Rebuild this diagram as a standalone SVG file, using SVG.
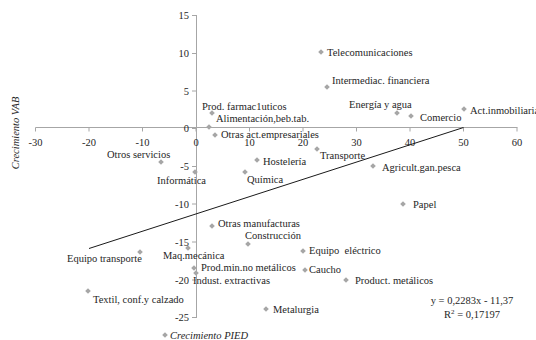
<svg xmlns="http://www.w3.org/2000/svg" width="536" height="340" viewBox="0 0 536 340">
<style>
text{font-family:"Liberation Serif","Times New Roman",serif;font-size:10.5px;fill:#262626}
.tk{fill:#404040}
.ax{stroke:#a6a6a6;stroke-width:1;fill:none}
.it{font-style:italic}
.mk{fill:#a6a6a6}
</style>
<defs>
<path id="d" d="M0,-2.8L2.8,0L0,2.8L-2.8,0Z" class="mk"/>
</defs>
<rect width="536" height="340" fill="#fff"/>
<g id="axes">
<path class="ax" d="M35.5,127.5H517.5M35.5,127.5v4M89,127.5v4M142.5,127.5v4M196,127.5v4M249.5,127.5v4M303,127.5v4M356.5,127.5v4M410,127.5v4M463.5,127.5v4M517,127.5v4"/>
<path class="ax" d="M196.5,15V318M192,15.5h4.5M192,53.5h4.5M192,91h4.5M192,128.5h4.5M192,166.5h4.5M192,204h4.5M192,242h4.5M192,280h4.5M192,317.5h4.5"/>
<g class="tk" text-anchor="middle">
<text x="35.5" y="146">-30</text><text x="89" y="146">-20</text><text x="142.5" y="146">-10</text><text x="196" y="146">0</text><text x="249.5" y="146">10</text><text x="303" y="146">20</text><text x="356.5" y="146">30</text><text x="410" y="146">40</text><text x="463.5" y="146">50</text><text x="517" y="146">60</text>
</g>
<g class="tk" text-anchor="end">
<text x="189" y="19">15</text><text x="189" y="57">10</text><text x="189" y="94.5">5</text><text x="189" y="132">0</text><text x="189" y="170">-5</text><text x="189" y="207.5">-10</text><text x="189" y="245.5">-15</text><text x="189" y="283.5">-20</text><text x="189" y="321">-25</text>
</g>
<text class="it" text-anchor="middle" transform="translate(19,133) rotate(-90)">Crecimiento VAB</text>
</g>
<g id="connectors">
<line x1="89" y1="248.5" x2="463.5" y2="127.5" stroke="#1a1a1a" stroke-width="1"/>
</g>
<g id="points">
<g id="telecom"><use href="#d" x="321" y="52"/><text x="327" y="56">Telecomunicaciones</text></g>
<g id="intermediac"><use href="#d" x="327" y="87"/><text x="332" y="84">Intermediac. financiera</text></g>
<g id="energia"><use href="#d" x="397" y="113"/><text x="349" y="108">Energía y agua</text></g>
<g id="comercio"><use href="#d" x="411" y="116"/><text x="420" y="121">Comercio</text></g>
<g id="actinm"><use href="#d" x="464" y="109"/><text x="470" y="114">Act.inmobiliaria</text></g>
<g id="farmac"><use href="#d" x="212" y="113"/><text x="202" y="110">Prod. farmac1uticos</text></g>
<g id="alimentacion"><use href="#d" x="209" y="127"/><text x="216" y="122">Alimentación,beb.tab.</text></g>
<g id="otrasact"><use href="#d" x="215" y="135"/><text x="221" y="138">Otras act.empresariales</text></g>
<g id="otrosserv"><use href="#d" x="161" y="162"/><text x="107" y="158">Otros servicios</text></g>
<g id="informatica"><use href="#d" x="195" y="172"/><text x="157" y="184">Informática</text></g>
<g id="hosteleria"><use href="#d" x="257" y="160"/><text x="263" y="165">Hostelería</text></g>
<g id="quimica"><use href="#d" x="245" y="172"/><text x="247" y="183">Química</text></g>
<g id="transporte"><use href="#d" x="317" y="149"/><text x="320" y="159">Transporte</text></g>
<g id="agricult"><use href="#d" x="373" y="166"/><text x="382" y="171">Agricult.gan.pesca</text></g>
<g id="papel"><use href="#d" x="403" y="204"/><text x="413" y="208">Papel</text></g>
<g id="otrasmanuf"><use href="#d" x="212" y="226"/><text x="218" y="227">Otras manufacturas</text></g>
<g id="construccion"><use href="#d" x="248" y="244"/><text x="245" y="239">Construcción</text></g>
<g id="equipoelec"><use href="#d" x="303" y="251"/><text x="309" y="254" xml:space="preserve">Equipo  eléctrico</text></g>
<g id="caucho"><use href="#d" x="305" y="270"/><text x="309" y="273">Caucho</text></g>
<g id="prodmin"><use href="#d" x="194" y="268"/><text x="201" y="271">Prod.min.no metálicos</text></g>
<g id="indust"><use href="#d" x="196" y="273"/><text x="193" y="284">Indust. extractivas</text></g>
<g id="maq"><use href="#d" x="188" y="248"/><text x="163" y="259">Maq.mecánica</text></g>
<g id="equipotrans"><use href="#d" x="140" y="252"/><text x="67" y="262">Equipo transporte</text></g>
<g id="textil"><use href="#d" x="88" y="291"/><text x="93" y="303">Textil, conf.y calzado</text></g>
<g id="prodmet"><use href="#d" x="346" y="280"/><text x="355" y="284">Product. metálicos</text></g>
<g id="metalurgia"><use href="#d" x="266" y="309"/><text x="273" y="313">Metalurgia</text></g>
</g>
<g id="legend"><use href="#d" x="165" y="335"/><text class="it" x="170" y="338.5">Crecimiento PIED</text></g>
<g id="equation" text-anchor="middle">
<text x="472" y="304">y = 0,2283x - 11,37</text>
<text x="472" y="318">R<tspan dy="-4" font-size="7">2</tspan><tspan dy="4"> = 0,17197</tspan></text>
</g>
</svg>
